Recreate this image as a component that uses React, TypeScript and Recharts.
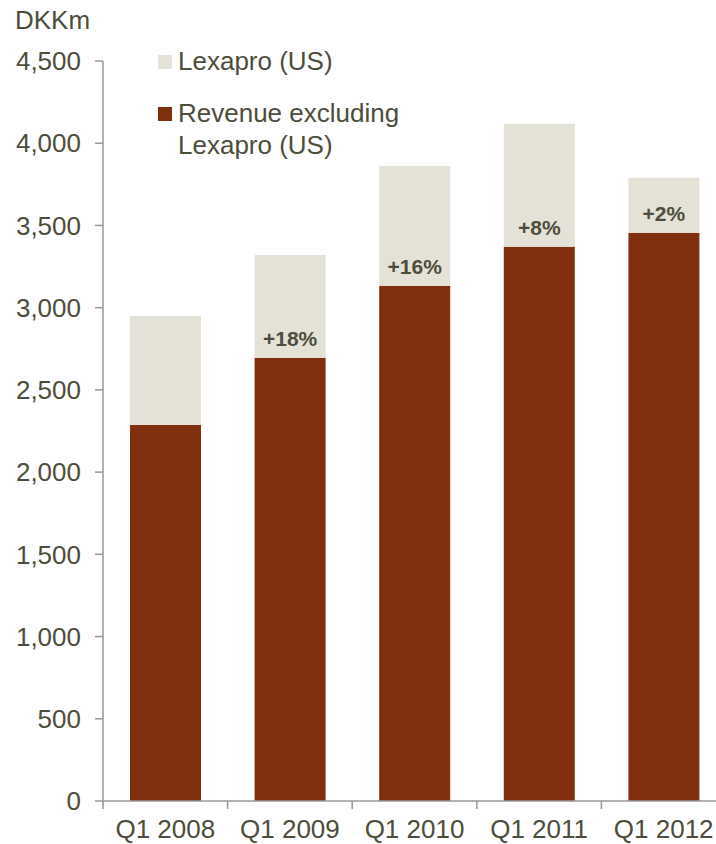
import React from 'react';
import { BarChart, Bar, XAxis, YAxis, LabelList } from 'recharts';

const quarters = ['Q1 2008', 'Q1 2009', 'Q1 2010', 'Q1 2011', 'Q1 2012'];
const revenueExLexapro = [2287, 2695, 3133, 3370, 3455];
const lexaproUS = [663, 626, 729, 748, 335];
const growthLabels = ['', '+18%', '+16%', '+8%', '+2%'];
const yTicks = [0, 500, 1000, 1500, 2000, 2500, 3000, 3500, 4000, 4500];

const data = quarters.map((q, i) => ({
  name: q,
  revenue: revenueExLexapro[i],
  lexapro: lexaproUS[i],
}));

const TEXT = '#4d4d3b';
const AXIS = '#999999';
const BROWN = '#80300e';
const BEIGE = '#e4e1d6';
const FONT = '"Liberation Sans", Arial, sans-serif';

const GrowthLabel = (props: any) => {
  const { x, y, width, height, index } = props;
  const label = growthLabels[index];
  if (!label) return null;
  return (
    <text x={x + width / 2} y={y + height - 12} textAnchor="middle" fontFamily={FONT} fontSize={21} fontWeight="bold" fill={TEXT}>
      {label}
    </text>
  );
};

// tick y arrives already shifted by tickSize + tickMargin (6 + 2)
const XTick = (props: any) => {
  const { x, y, payload } = props;
  const axisY = y - 8;
  const half = payload && payload.offset ? payload.offset : 62.3;
  return (
    <g>
      <line x1={x - half} y1={axisY} x2={x - half} y2={axisY + 8} stroke={AXIS} strokeWidth={1.5} />
      <text x={x} y={axisY + 37} textAnchor="middle" fontFamily={FONT} fontSize={26} fill={TEXT}>
        {payload.value}
      </text>
    </g>
  );
};

const LegendBox = () => (
  <div style={{ position: 'absolute', left: 0, top: 0, fontFamily: FONT, fontSize: 26, color: TEXT, lineHeight: '32px' }}>
    <div style={{ position: 'absolute', left: 158, top: 45, display: 'flex', whiteSpace: 'nowrap' }}>
      <div style={{ width: 14, height: 14, background: BEIGE, marginTop: 10, marginRight: 6 }} />
      <div>Lexapro (US)</div>
    </div>
    <div style={{ position: 'absolute', left: 158, top: 97, display: 'flex', whiteSpace: 'nowrap' }}>
      <div style={{ width: 14, height: 14, background: BROWN, marginTop: 10, marginRight: 6 }} />
      <div>
        Revenue excluding
        <br />
        Lexapro (US)
      </div>
    </div>
  </div>
);

export default function App() {
  return (
    <div style={{ position: 'absolute', left: 0, top: 0, width: 716, height: 844, overflow: 'hidden', background: '#fff' }}>
      <div style={{ position: 'absolute', left: 15, top: 5, fontFamily: FONT, fontSize: 26, color: TEXT }}>DKKm</div>
      <BarChart width={730} height={844} data={data} margin={{ top: 61, right: 4, bottom: 0, left: 0 }}>
        <YAxis
          width={103}
          domain={[0, 4500]}
          ticks={yTicks}
          tickFormatter={(v: number) => v.toLocaleString('en-US')}
          tick={{ fontFamily: FONT, fontSize: 26, fill: TEXT }}
          tickSize={8}
          tickMargin={14}
          axisLine={{ stroke: AXIS, strokeWidth: 1.5 }}
          tickLine={{ stroke: AXIS, strokeWidth: 1.5 }}
        />
        <XAxis
          dataKey="name"
          tick={<XTick />}
          tickLine={false}
          tickSize={6}
          tickMargin={2}
          axisLine={{ stroke: AXIS, strokeWidth: 1.5 }}
          interval={0}
          height={43}
        />
        <Bar dataKey="revenue" stackId="a" fill={BROWN} barSize={71} isAnimationActive={false} />
        <Bar dataKey="lexapro" stackId="a" fill={BEIGE} barSize={71} isAnimationActive={false}>
          <LabelList dataKey="lexapro" content={<GrowthLabel />} />
        </Bar>
      </BarChart>
      <LegendBox />
    </div>
  );
}
